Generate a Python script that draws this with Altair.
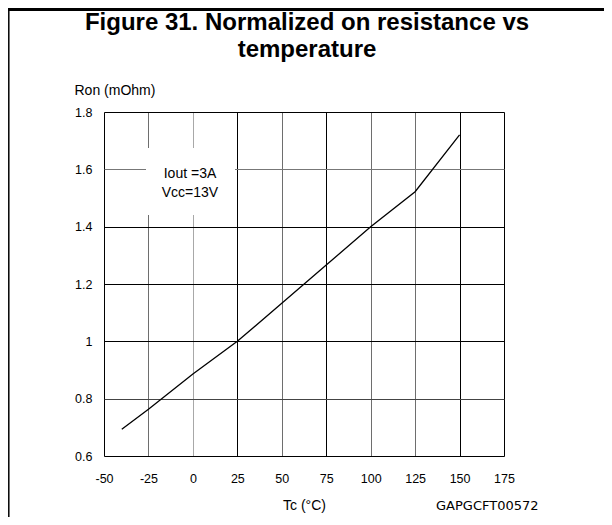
import altair as alt
import pandas as pd

# ---- data ----
temps = [-40, -25, 0, 25, 50, 75, 100, 125, 150]
ron = [0.693, 0.763, 0.886, 1.0, 1.133, 1.266, 1.4, 1.522, 1.72]
x_ticks = [-50, -25, 0, 25, 50, 75, 100, 125, 150, 175]
y_ticks = [0.6, 0.8, 1.0, 1.2, 1.4, 1.6, 1.8]
title_lines = ["Figure 31. Normalized on resistance vs", "temperature"]
note_lines = ["Iout =3A", "Vcc=13V"]
code_label = "GAPGCFT00572"
x_title = "Tc (°C)"
y_title = "Ron (mOhm)"

df = pd.DataFrame({"T": temps, "R": ron})
one = pd.DataFrame({"k": [0]})

FONT = "Liberation Sans"
W, H = 400, 344
PAD = {"left": 96, "top": 104, "right": 100, "bottom": 61}

x_grid_color = {
    "condition": [
        {"test": "datum.value === 25 || datum.value === 75 || datum.value === 150 || datum.value === -50 || datum.value === 175",
         "value": "#000000"},
        {"test": "datum.value === 0", "value": "#a8a8a8"},
    ],
    "value": "#6e6e6e",
}
y_grid_color = {
    "condition": [
        {"test": "abs(datum.value - 1.6) < 0.01", "value": "#777777"},
        {"test": "abs(datum.value - 0.8) < 0.01", "value": "#444444"},
    ],
    "value": "#000000",
}

line = alt.Chart(df).mark_line(color="black", strokeWidth=1.3).encode(
    x=alt.X("T:Q",
            scale=alt.Scale(domain=[-50, 175], nice=False, zero=False),
            axis=alt.Axis(values=x_ticks, title=x_title,
                          labelExpr="toString(datum.value)",
                          labelFont=FONT, labelFontSize=12.5, labelColor="black",
                          labelPadding=16, labelBaseline="top", labelFlush=False,
                          labelOverlap=False,
                          ticks=False, domain=False, grid=True,
                          gridColor=x_grid_color, gridWidth=1, gridOpacity=1,
                          titleFont=FONT, titleFontSize=14, titleFontWeight="normal",
                          titleColor="black", titleBaseline="alphabetic",
                          titleX=200, titleY=53, titleAnchor="middle")),
    y=alt.Y("R:Q",
            scale=alt.Scale(domain=[0.6, 1.8], nice=False, zero=False),
            axis=alt.Axis(values=y_ticks, title=y_title,
                          labelExpr="toString(datum.value)",
                          labelFont=FONT, labelFontSize=12.5, labelColor="black",
                          labelPadding=12, labelBaseline="middle",
                          labelOverlap=False,
                          ticks=False, domain=False, grid=True,
                          gridColor=y_grid_color, gridWidth=1, gridOpacity=1,
                          titleFont=FONT, titleFontSize=14, titleFontWeight="normal",
                          titleColor="black", titleAngle=0, titleAlign="left",
                          titleBaseline="alphabetic", titleX=-30, titleY=-18)),
)

note_bg = alt.Chart(one).mark_rect(color="white").encode(
    x=alt.value(42), x2=alt.value(131), y=alt.value(36), y2=alt.value(103)
)

note_text = alt.Chart(one).mark_text(
    font=FONT, fontSize=14, color="black", align="center", baseline="alphabetic",
    lineHeight=19
).encode(x=alt.value(86), y=alt.value(66), text=alt.value(note_lines))

title_text = alt.Chart(one).mark_text(
    font=FONT, fontSize=24, fontWeight="bold", color="black", align="center",
    baseline="alphabetic", lineHeight=27
).encode(x=alt.value(203), y=alt.value(-82), text=alt.value(title_lines))

code_text = alt.Chart(one).mark_text(
    font="DejaVu Sans", fontSize=13, color="black", align="left", baseline="alphabetic"
).encode(x=alt.value(332), y=alt.value(H + 54), text=alt.value(code_label))

top_rule = alt.Chart(one).mark_rule(color="black", strokeWidth=3).encode(
    x=alt.value(-96), x2=alt.value(500), y=alt.value(-102.5)
)
left_rule = alt.Chart(one).mark_rule(color="black", strokeWidth=1.5).encode(
    x=alt.value(-95.2), y=alt.value(-101), y2=alt.value(H + 61)
)

chart = alt.layer(
    line, note_bg, note_text, title_text, code_text, top_rule, left_rule
).properties(
    width=W, height=H,
    autosize=alt.AutoSizeParams(type="none"),
    padding=PAD,
).configure_view(
    stroke="black", strokeWidth=2
).configure(background="white")

chart.save("out.html", embed_options={"renderer": "svg", "actions": False})
